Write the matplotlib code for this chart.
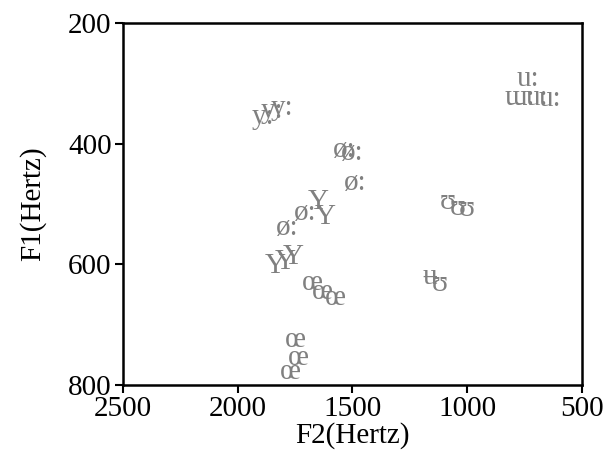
import matplotlib
matplotlib.use("Agg")
import matplotlib.pyplot as plt

# Vowel tokens: label, F2 (Hz), F1 (Hz)
labels = ["y:", "y:", "y:",
          "ø:", "ø:", "ø:",
          "Y", "Y",
          "ø:", "ø:",
          "Y", "Y", "Y",
          "œ", "œ", "œ",
          "œ", "œ", "œ",
          "ʊ", "ʊ", "ʊ",
          "ʉ", "ʊ",
          "u:", "ɯ:", "u:", "u:"]
f2 = [1890, 1850, 1805,
      1533, 1502, 1489,
      1650, 1620,
      1707, 1785,
      1838, 1794, 1759,
      1672, 1629, 1576,
      1750, 1737, 1772,
      1084, 1040, 1001,
      1162, 1119,
      735, 770, 696, 640]
f1 = [355, 345, 340,
      410, 415, 465,
      497, 521,
      515, 540,
      603, 596, 588,
      631, 646, 656,
      725, 755, 778,
      497, 507, 508,
      621, 633,
      293, 324, 324, 326]

xticks = [2500, 2000, 1500, 1000, 500]
yticks = [200, 400, 600, 800]

serif = ["Liberation Serif", "DejaVu Serif"]
plt.rcParams["font.family"] = serif

fig = plt.figure(figsize=(6.08, 4.62), dpi=100)
ax = fig.add_axes([0.202, 0.1667, 0.755, 0.7833])

for lab, x, y in zip(labels, f2, f1):
    ax.text(x, y, lab, color="#808080", fontsize=21, ha="center", va="center",
            family=serif)

ax.set_xlim(2500, 500)
ax.set_ylim(800, 200)
ax.set_xticks(xticks)
ax.set_yticks(yticks)
ax.tick_params(direction="out", length=6, width=1.5, labelsize=21, pad=2)
for s in ax.spines.values():
    s.set_linewidth(1.8)
ax.set_xlabel("F2(Hertz)", fontsize=21, labelpad=0)
ax.set_ylabel("F1(Hertz)", fontsize=21, labelpad=16)

fig.savefig("out.png", dpi=100)
